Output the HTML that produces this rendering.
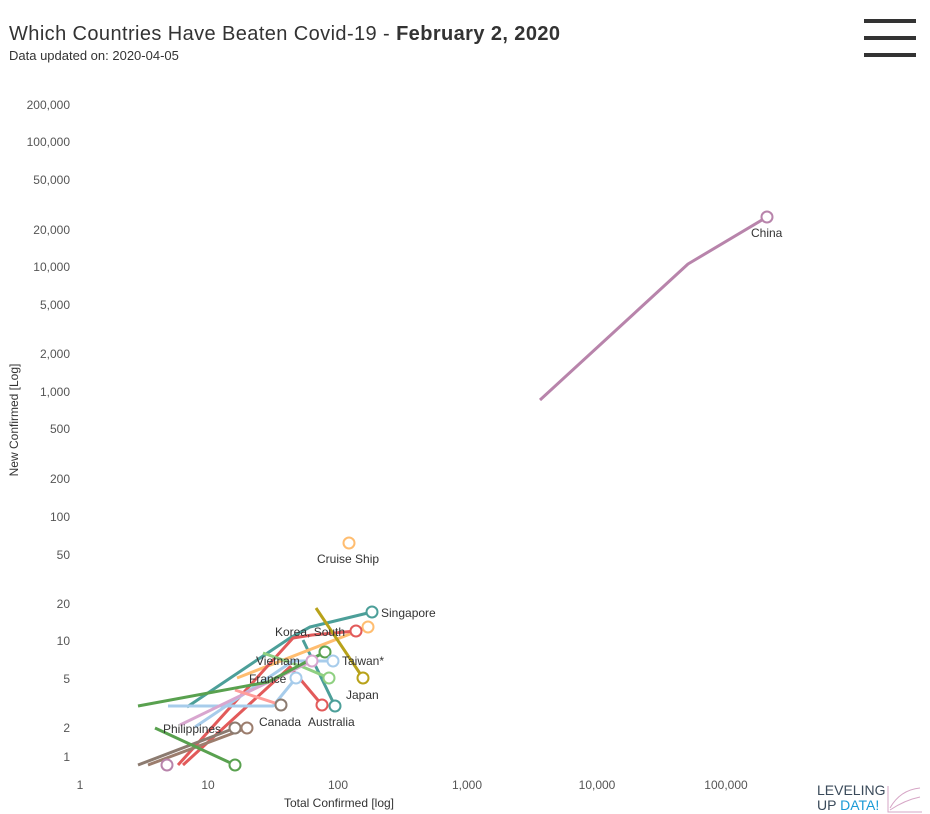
<!DOCTYPE html>
<html><head><meta charset="utf-8"><style>
body{margin:0;width:930px;height:814px;background:#fff;overflow:hidden;font-family:"Liberation Sans",sans-serif}
svg{position:absolute;left:0;top:0}
</style></head><body>
<svg width="930" height="814" viewBox="0 0 930 814">
<text x="9" y="40" font-size="20" fill="#333" textLength="551" lengthAdjust="spacing">Which Countries Have Beaten Covid-19  - <tspan font-weight="bold">February 2, 2020</tspan></text>
<text x="9" y="60" font-size="13" fill="#333">Data updated on: 2020-04-05</text>
<rect x="864" y="19" width="52" height="4" fill="#333"/>
<rect x="864" y="36" width="52" height="4" fill="#333"/>
<rect x="864" y="53" width="52" height="4" fill="#333"/>
<g font-size="12" fill="#555" text-anchor="end">
<text x="70" y="109">200,000</text><text x="70" y="146">100,000</text><text x="70" y="184">50,000</text>
<text x="70" y="234">20,000</text><text x="70" y="271">10,000</text><text x="70" y="309">5,000</text>
<text x="70" y="358">2,000</text><text x="70" y="396">1,000</text><text x="70" y="433">500</text>
<text x="70" y="483">200</text><text x="70" y="521">100</text><text x="70" y="559">50</text>
<text x="70" y="608">20</text><text x="70" y="645">10</text><text x="70" y="683">5</text>
<text x="70" y="732">2</text><text x="70" y="761">1</text>
</g>
<g font-size="12" fill="#555" text-anchor="middle">
<text x="80" y="789">1</text><text x="208" y="789">10</text><text x="338" y="789">100</text>
<text x="467" y="789">1,000</text><text x="597" y="789">10,000</text><text x="726" y="789">100,000</text>
</g>
<text x="339" y="807" font-size="12" fill="#333" text-anchor="middle">Total Confirmed [log]</text>
<text transform="translate(18,420) rotate(-90)" font-size="12" fill="#333" text-anchor="middle">New Confirmed [Log]</text>
<g fill="none" stroke-width="3" stroke-linejoin="round">
<polyline stroke="#b884ab" points="540,400 688,264 767,217"/>
<polyline stroke="#4c9f99" points="187,707 290,638 310,627 372,612"/>
<polyline stroke="#4c9f99" points="303,640 335,706"/>
<polyline stroke="#ffbd70" points="237,678 368,627"/>
<polyline stroke="#e25a5a" points="178,765 293,638 312,635 356,631"/>
<polyline stroke="#e25a5a" points="183,765 290,667 322,705"/>
<polyline stroke="#b8a21a" points="316,608 363,678"/>
<polyline stroke="#8fd081" points="263,653 303,667 329,678"/>
<polyline stroke="#a7cceb" points="168,706 273,706 296,678"/>
<polyline stroke="#a7cceb" points="195,727 293,661 333,661"/>
<polyline stroke="#d8a6cf" points="180,725 312,661"/>
<polyline stroke="#ff9d9a" points="235,690 281,705"/>
<polyline stroke="#59a14f" points="138,706 268,682 325,652"/>
<polyline stroke="#8c7b70" points="138,765 235,728"/>
<polyline stroke="#9c7d6d" points="148,765 247,728"/>
<polyline stroke="#59a14f" points="155,728 235,765"/>
</g>
<g fill="#fff" stroke-width="2">
<circle cx="767" cy="217" r="5.5" stroke="#b884ab"/>
<circle cx="349" cy="543" r="5.5" stroke="#ffbd70"/>
<circle cx="372" cy="612" r="5.5" stroke="#4c9f99"/>
<circle cx="368" cy="627" r="5.5" stroke="#ffbd70"/>
<circle cx="356" cy="631" r="5.5" stroke="#e25a5a"/>
<circle cx="363" cy="678" r="5.5" stroke="#b8a21a"/>
<circle cx="329" cy="678" r="5.5" stroke="#8fd081"/>
<circle cx="325" cy="652" r="5.5" stroke="#59a14f"/>
<circle cx="333" cy="661" r="5.5" stroke="#a7cceb"/>
<circle cx="312" cy="661" r="5.5" stroke="#d8a6cf"/>
<circle cx="296" cy="678" r="5.5" stroke="#a7cceb"/>
<circle cx="335" cy="706" r="5.5" stroke="#4c9f99"/>
<circle cx="322" cy="705" r="5.5" stroke="#e25a5a"/>
<circle cx="281" cy="705" r="5.5" stroke="#8c7b70"/>
<circle cx="235" cy="728" r="5.5" stroke="#8c7b70"/>
<circle cx="247" cy="728" r="5.5" stroke="#9c7d6d"/>
<circle cx="235" cy="765" r="5.5" stroke="#59a14f"/>
<circle cx="167" cy="765" r="5.5" stroke="#b884ab"/>
</g>
<g font-size="12" fill="#333">
<text x="751" y="237">China</text>
<text x="317" y="563">Cruise Ship</text>
<text x="381" y="617">Singapore</text>
<text x="275" y="636">Korea, South</text>
<text x="256" y="665">Vietnam</text>
<text x="342" y="665">Taiwan*</text>
<text x="249" y="683">France</text>
<text x="346" y="699">Japan</text>
<text x="259" y="726">Canada</text>
<text x="308" y="726">Australia</text>
<text x="163" y="733">Philippines</text>
</g>
<text x="817" y="795" font-size="14" fill="#3a4a5a">LEVELING</text>
<text x="817" y="810" font-size="14" fill="#3a4a5a">UP <tspan fill="#1a9ad6">DATA!</tspan></text>
<path d="M888,786 V812 H922 M890,808 Q900,790 920,788 M890,810 Q905,800 920,797" fill="none" stroke="#d6a6c6" stroke-width="1"/>
</svg>
</body></html>
